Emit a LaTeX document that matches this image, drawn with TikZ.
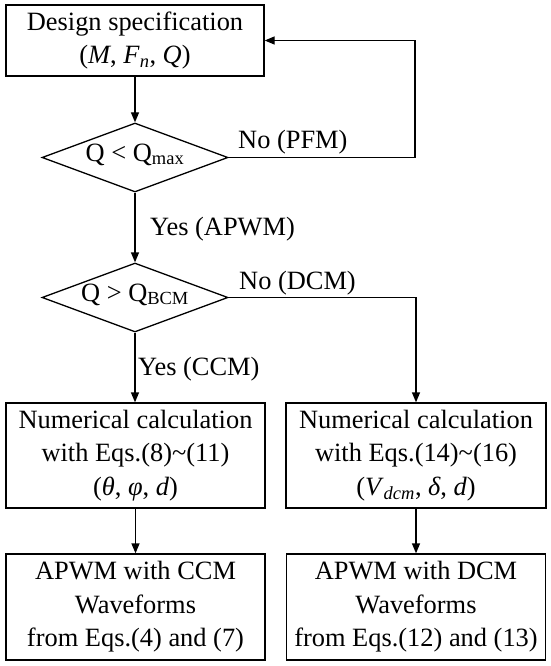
\documentclass[tikz,border=0pt]{standalone}
\usepackage{fontspec}
\setmainfont{Liberation Serif}
\usetikzlibrary{shapes.geometric,arrows.meta}
\begin{document}
\begin{tikzpicture}[x=1pt,y=-1pt,
  every node/.style={font=\fontsize{26.4}{33.5}\selectfont, text=black},
  box/.style={draw, line width=1.3pt, rectangle, align=center, inner sep=0pt, execute at begin node={\rule{0pt}{31pt}}},
  dec/.style={draw, line width=1.3pt, diamond, aspect=2.7, inner sep=0pt, minimum width=186pt, minimum height=69pt, text height=16pt, text depth=9pt},
  lbl/.style={inner sep=1pt},
  arr/.style={line width=1.3pt, -{Triangle[length=10pt,width=8pt]}},
  ln/.style={line width=1.3pt}]
\useasboundingbox (0,0) rectangle (550,666);
\node[box, minimum width=258pt, minimum height=71pt] (spec) at (135,40.5) {Design specification\\(\textit{M}, \textit{F}\textsubscript{\textit{n}}, \textit{Q})};
\node[dec] (d1) at (135,157.5) {Q < Q\textsubscript{max}};
\node[dec] (d2) at (135,297.5) {Q > Q\textsubscript{BCM}};
\node[box, minimum width=259pt, minimum height=105pt] (calcL) at (135.5,455.5) {Numerical calculation\\with Eqs.(8)\textasciitilde(11)\\(\textit{θ}, \textit{φ}, \textit{d})};
\node[box, minimum width=260pt, minimum height=105pt] (calcR) at (416,455.5) {Numerical calculation\\with Eqs.(14)\textasciitilde(16)\\(\textit{V}\textsubscript{\textit{dcm}}, \textit{δ}, \textit{d})};
\node[box, minimum width=259pt, minimum height=106pt] (wfL) at (135.5,607) {APWM with CCM\\Waveforms\\from Eqs.(4) and (7)};
\node[box, minimum width=259pt, minimum height=106pt] (wfR) at (416,607) {APWM with DCM\\Waveforms\\from Eqs.(12) and (13)};
\coordinate (fb) at (415,40.5);
\draw[arr] (spec.south) -- (d1.north);
\draw[arr] (d1.south) -- (d2.north);
\draw[arr] (d2.south) -- (calcL.north -| d2.south);
\draw[arr] (calcL.south) -- (wfL.north);
\draw[arr] (calcR.south) -- (wfR.north);
\draw[arr] (d1.east) -| (fb) -- (spec.east);
\draw[arr] (d2.east) -| (calcR.north);
\node[lbl, anchor=south west] (pfm) at (237,155) {No (PFM)};
\node[lbl, anchor=west] (apwm) at (149,229) {Yes (APWM)};
\node[lbl, anchor=south west] (dcm) at (238,296) {No (DCM)};
\node[lbl, anchor=west] (ccm) at (137,369) {Yes (CCM)};
\end{tikzpicture}
\end{document}
